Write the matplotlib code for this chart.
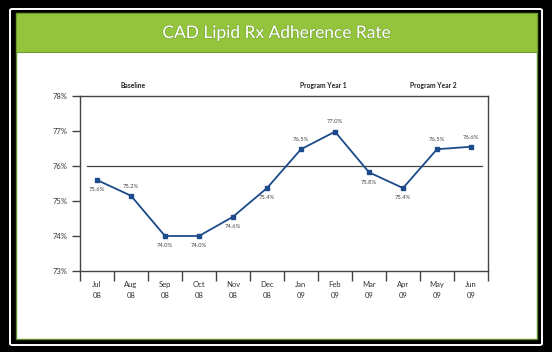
import matplotlib.pyplot as plt
import matplotlib.patheffects as pe
from matplotlib.patches import Rectangle, FancyBboxPatch

months = ['Jul\n08', 'Aug\n08', 'Sep\n08', 'Oct\n08', 'Nov\n08', 'Dec\n08',
          'Jan\n09', 'Feb\n09', 'Mar\n09', 'Apr\n09', 'May\n09', 'Jun\n09']
rate = [75.6, 75.15, 74.0, 74.0, 74.55, 75.37, 76.48, 76.98, 75.82, 75.37, 76.48, 76.55]
point_labels = ['75.6%', '75.2%', '74.0%', '74.0%', '74.6%', '75.4%',
                '76.5%', '77.0%', '75.8%', '75.4%', '76.5%', '76.6%']
label_above = [False, True, False, False, False, False, True, True, False, False, True, True]
sections = ['Baseline', 'Program Year 1', 'Program Year 2']
section_x = [1.07, 6.65, 9.88]

W, H = 552, 352
def box(x0, y0, x1, y1):
    # pixel coords (top-left origin) -> figure fraction rect
    return (x0 / W, 1 - y1 / H), (x1 - x0) / W, (y1 - y0) / H

fig = plt.figure(figsize=(5.52, 3.52), dpi=100, facecolor='black')
green = '#93c43c'
line_col = '#1c4a8a'
txt = '#333333'

xy, w, h = box(10, 9, 542, 345)
fig.add_artist(FancyBboxPatch(xy, w, h, boxstyle='round,pad=0,rounding_size=0.004',
                              transform=fig.transFigure, fc='black', ec='white', lw=1.4, zorder=-3))
xy, w, h = box(16, 13, 537, 339)
fig.add_artist(Rectangle(xy, w, h, transform=fig.transFigure, fc='white', ec='#5a8a2a', lw=1, zorder=-2))
xy, w, h = box(16, 13, 537, 52)
fig.add_artist(Rectangle(xy, w, h, transform=fig.transFigure, fc=green, ec='#6f9a2c', lw=0.8, zorder=-1))
fig.text(277 / W, 1 - 33 / H, 'CAD Lipid Rx Adherence Rate', color='white', fontsize=12.5,
         family='Lato', ha='center', va='center',
         path_effects=[pe.withStroke(linewidth=0.8, foreground='#5f8a25', alpha=0.6)])

xy, w, h = box(80, 96, 488, 271)
ax = fig.add_axes([xy[0], xy[1], w, h])
ax.set_zorder(5)
ax.set_facecolor('white')
x = range(len(months))
ax.plot(x, rate, color=line_col, lw=1.3, marker='s', ms=3.2, zorder=3)
ax.set_xlim(-0.5, len(months) - 0.5)
ax.set_ylim(73, 78)
ax.axhline(76, xmin=0.017, xmax=0.985, color='#444444', lw=0.9)

for i, (v, lab, up) in enumerate(zip(rate, point_labels, label_above)):
    ax.annotate(lab, (i, v), xytext=(0, 7 if up else -7), textcoords='offset points',
                ha='center', va='center', fontsize=4.2, color='#444444', family='Lato')

for s, sx in zip(sections, section_x):
    ax.text(sx, 78.2, s, ha='center', va='bottom', fontsize=4.9, fontweight='bold',
            color='#222222', family='Lato')

ax.set_xticks(list(x))
ax.set_xticklabels(months, fontsize=5.5, color=txt, family='Lato', linespacing=1.7)
ax.set_xticks([i - 0.5 for i in range(len(months) + 1)], minor=True)
ax.tick_params(axis='x', which='major', length=0, pad=7)
ax.tick_params(axis='x', which='minor', length=7.5, width=1, color='#444444')
ax.set_yticks([73, 74, 75, 76, 77, 78])
ax.set_yticklabels(['73%', '74%', '75%', '76%', '77%', '78%'], fontsize=5.5, color=txt,
                   family='Lato')
ax.tick_params(axis='y', length=6, width=1, color='#444444', pad=3)
for sp in ax.spines.values():
    sp.set_color('#444444')
    sp.set_linewidth(1)

plt.savefig('out.png', dpi=100, facecolor='black')
